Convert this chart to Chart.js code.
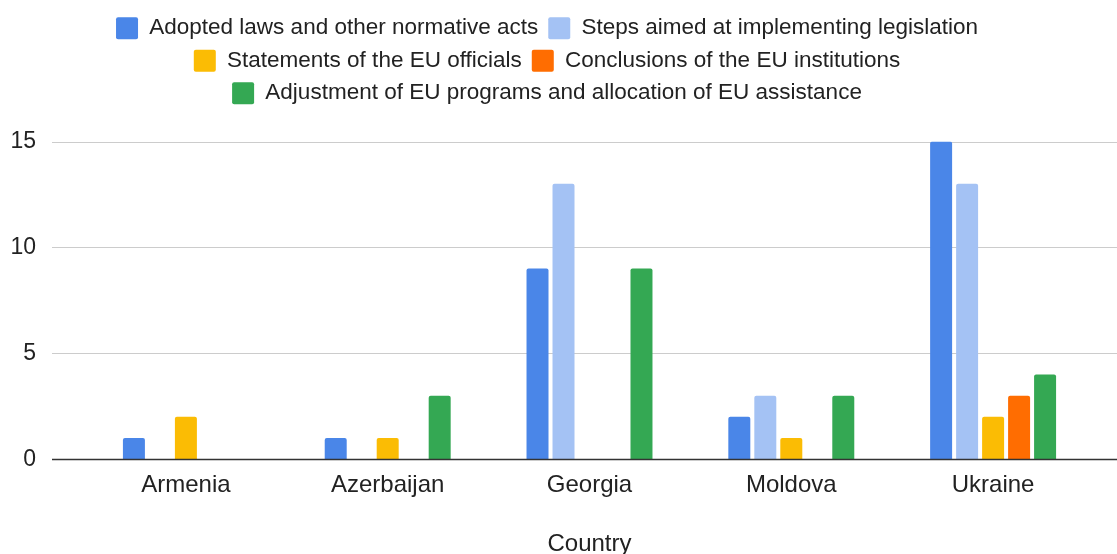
<!DOCTYPE html>
<html>
<head>
<meta charset="utf-8">
<script src="https://cdn.jsdelivr.net/npm/chart.js@4"></script>
<style>
  html, body { margin: 0; padding: 0; background: #fff; }
  #wrap { width: 1117px; height: 554px; }
</style>
</head>
<body>
<div id="wrap"><canvas id="myChart"></canvas></div>
<script>
const countries = ['Armenia', 'Azerbaijan', 'Georgia', 'Moldova', 'Ukraine'];
const adoptedLaws = [1, 1, 9, 2, 15];
const implementingSteps = [0, 0, 13, 3, 13];
const officialStatements = [2, 1, 0, 1, 2];
const institutionConclusions = [0, 0, 0, 0, 3];
const programAdjustments = [0, 3, 9, 3, 4];
const yTicks = [0, 5, 10, 15];

const font = 'Liberation Sans, Arial, sans-serif';
const textColor = '#222222';

// gridlines run wider than the plot area, like the original
const fullGrid = {
    id: 'fullGrid',
    beforeDatasetsDraw(chart) {
        const c = chart.ctx, y = chart.scales.y;
        c.save();
        c.strokeStyle = '#cccccc';
        c.lineWidth = 1.2;
        yTicks.forEach(v => {
            if (v === 0) return;
            const py = Math.round(y.getPixelForValue(v)) + 0.5;
            c.beginPath(); c.moveTo(52, py); c.lineTo(chart.width, py); c.stroke();
        });
        c.restore();
    },
    afterDatasetsDraw(chart) {
        const c = chart.ctx, y = chart.scales.y;
        const py = Math.round(y.getPixelForValue(0)) + 0.5;
        c.save();
        c.strokeStyle = '#333333';
        c.lineWidth = 1.3;
        c.beginPath(); c.moveTo(52, py); c.lineTo(chart.width, py); c.stroke();
        c.restore();
    }
};

const legendGap = {
    id: 'legendGap',
    beforeInit(chart) {
        const fit = chart.legend.fit;
        chart.legend.fit = function () {
            fit.bind(chart.legend)();
            this.height += 27;
        };
    }
};

function series(label, data, color) {
    return {
        label: label,
        data: data,
        backgroundColor: color,
        borderRadius: { topLeft: 2, topRight: 2, bottomLeft: 0, bottomRight: 0 },
        borderSkipped: 'start',
        categoryPercentage: 0.644,
        barPercentage: 0.846
    };
}

var ctx = document.getElementById('myChart').getContext('2d');
var myChart = new Chart(ctx, {
    type: 'bar',
    data: {
        labels: countries,
        datasets: [
            series('Adopted laws and other normative acts', adoptedLaws, '#4a86e8'),
            series('Steps aimed at implementing legislation', implementingSteps, '#a4c2f4'),
            series('Statements of the EU officials', officialStatements, '#fbbc04'),
            series('Conclusions of the EU institutions', institutionConclusions, '#ff6d01'),
            series('Adjustment of EU programs and allocation of EU assistance', programAdjustments, '#34a853')
        ]
    },
    options: {
        responsive: true,
        maintainAspectRatio: false,
        animation: false,
        layout: { padding: { top: 7, right: 23, left: 0, bottom: 0 } },
        plugins: {
            legend: {
                position: 'top',
                labels: {
                    boxWidth: 22,
                    boxHeight: 22,
                    padding: 10,
                    useBorderRadius: true,
                    borderRadius: 2,
                    color: textColor,
                    font: { family: font, size: 22.5 }
                }
            },
            tooltip: { enabled: false }
        },
        scales: {
            x: {
                grid: { display: false },
                border: { display: false },
                ticks: { color: textColor, padding: 4, font: { family: font, size: 24 } },
                title: {
                    display: true,
                    text: 'Country',
                    color: textColor,
                    padding: { top: 28, bottom: -2 },
                    font: { family: font, size: 24, lineHeight: 1 }
                }
            },
            y: {
                min: 0,
                max: 15,
                grid: { display: false },
                border: { display: false },
                afterFit(scale) { scale.width = 85; },
                afterBuildTicks(scale) { scale.ticks = yTicks.map(v => ({ value: v })); },
                ticks: { color: textColor, padding: 41, font: { family: font, size: 23 } }
            }
        }
    },
    plugins: [fullGrid, legendGap]
});
</script>
</body>
</html>
